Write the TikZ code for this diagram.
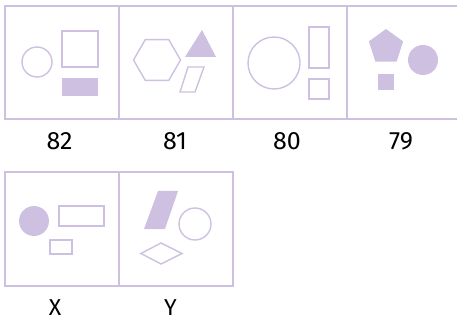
\documentclass[tikz,border=0pt]{standalone}
\usepackage{fontspec}
\setmainfont{Fira Sans}
\definecolor{lilac}{RGB}{206,192,225}

\begin{document}
\begin{tikzpicture}[x=1pt,y=-1pt,
  cellframe/.style={draw=lilac,line width=2pt},
  outl/.style={draw=lilac,line width=1.4pt},
  solid/.style={fill=lilac},
  numtag/.style={font=\fontsize{25}{25}\selectfont},
  lettag/.style={font=\fontsize{23}{23}\selectfont}]
  \useasboundingbox (0,0) rectangle (457,320);
  % cells
  \foreach \x in {4.5,118.8,233.1,347.4} {
    \draw[cellframe] (\x,6) rectangle ++(114.3,113);
  }
  \foreach \x in {4.5,118.8} {
    \draw[cellframe] (\x,172) rectangle ++(114.3,114);
  }
  % 82
  \draw[outl] (37,62) circle (15);
  \draw[outl] (62,31) rectangle (98,67);
  \fill[solid] (62,78) rectangle (98,96);
  % 81
  \draw[outl] (180.5,60) -- (168.75,39.6) -- (145.25,39.6) -- (133.5,60)
    -- (145.25,80.4) -- (168.75,80.4) -- cycle;
  \fill[solid] (202,30) -- (216,57) -- (185,57) -- cycle;
  \draw[outl] (188,67) -- (204,67) -- (195,92) -- (180,92) -- cycle;
  % 80
  \draw[outl] (274,63) circle (26);
  \draw[outl] (309,27) rectangle (329,68);
  \draw[outl] (309,79) rectangle (329,99);
  % 79
  \fill[solid] (386,29) -- (403.1,41.4) -- (396.6,61.6) -- (375.4,61.6)
    -- (368.9,41.4) -- cycle;
  \fill[solid] (423,60) circle (15);
  \fill[solid] (378,74) rectangle (394,90);
  % X
  \fill[solid] (34,221) circle (15);
  \draw[outl] (59,206) rectangle (104,226);
  \draw[outl] (50,240) rectangle (72,254);
  % Y
  \fill[solid] (158,191) -- (178,191) -- (165,229) -- (144,229) -- cycle;
  \draw[outl] (195,224) circle (16);
  \draw[outl] (141,253.5) -- (161,243) -- (182,253.5) -- (161,264) -- cycle;
  % labels
  \node[numtag] (n82) at (59.5,141) {82};
  \node[numtag] (n81) at (175,141) {81};
  \node[numtag] (n80) at (287,141) {80};
  \node[numtag] (n79) at (401,141) {79};
  \node[lettag] (lx) at (55,307.5) {X};
  \node[lettag] (ly) at (170.5,307.5) {Y};
\end{tikzpicture}
\end{document}
